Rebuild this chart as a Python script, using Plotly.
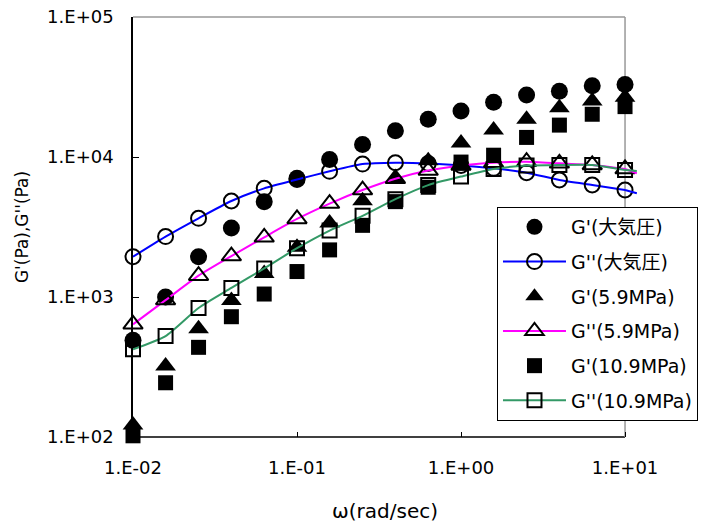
import plotly.graph_objects as go

# angular frequency (rad/sec)
omega = [0.01, 0.0158, 0.0251, 0.0398, 0.0631, 0.1, 0.158, 0.251, 0.398, 0.631,
         1.0, 1.58, 2.51, 3.98, 6.31, 10.0]

# G' and G'' (Pa)
g1_atm = [490, 1000, 1940, 3110, 4800, 7050, 9600, 12300, 15400, 18600,
          21300, 24600, 27700, 29500, 32300, 33000]
g2_atm = [1940, 2700, 3650, 4850, 5970, 6900, 7900, 8900, 9100, 9000,
          8700, 8300, 7730, 6850, 6310, 5810]
g1_59 = [122, 321, 594, 945, 1470, 2265, 3380, 4870, 6970, 9400,
         12600, 15600, 18600, 22500, 25100, 26700]
g2_59 = [638, 950, 1420, 1960, 2670, 3610, 4650, 5810, 7000, 8000,
         8700, 9100, 9250, 9010, 8770, 8210]
g1_109 = [102, 244, 437, 723, 1050, 1520, 2170, 3250, 4800, 6080,
          9200, 10300, 13800, 16900, 20200, 22900]
g2_109 = [423, 526, 834, 1160, 1600, 2230, 2980, 3800, 5000, 6300,
          7250, 8210, 8680, 8770, 8770, 8070]

# curve continuation past the last measured point
omega_end = [10.0, 11.8]
g2_atm_end = [5810, 5500]
g2_59_end = [8210, 7640]
g2_109_end = [8070, 7940]

names = ["G'(大気圧)", "G''(大気圧)", "G'(5.9MPa)", "G''(5.9MPa)",
         "G'(10.9MPa)", "G''(10.9MPa)"]

x_tickvals = [0.01, 0.1, 1, 10]
x_ticktext = ["1.E-02", "1.E-01", "1.E+00", "1.E+01"]
y_tickvals = [100, 1000, 10000, 100000]
y_ticktext = ["1.E+02", "1.E+03", "1.E+04", "1.E+05"]
x_min, x_max = x_tickvals[0], x_tickvals[-1]

FONT = "DejaVu Sans, Noto Sans CJK JP, sans-serif"
BLUE = "#0000FF"
MAGENTA = "#FF00FF"
GREEN = "#339966"

fig = go.Figure()


def filled(y, sym, size, name, grp):
    fig.add_trace(go.Scatter(
        x=omega, y=y, mode="markers", name=name, legendgroup=grp,
        cliponaxis=False,
        marker=dict(symbol=sym, size=size, color="black", line=dict(width=0))))


def openm(y, sym, size, color, name, grp):
    fig.add_trace(go.Scatter(
        x=omega, y=y, mode="lines+markers", name=name, legendgroup=grp,
        cliponaxis=False, line=dict(color=color, width=2, shape="spline", smoothing=0.6),
        marker=dict(symbol=sym, size=size, color="black",
                    line=dict(width=2, color="black"))))


filled(g1_atm, "circle", 17, names[0], "a")
openm(g2_atm, "circle-open", 15, BLUE, names[1], "b")
filled(g1_59, "triangle-up", 18, names[2], "c")
openm(g2_59, "triangle-up-open", 17, MAGENTA, names[3], "d")
filled(g1_109, "square", 15, names[4], "e")
openm(g2_109, "square-open", 14, GREEN, names[5], "f")

for yy, col, grp in [(g2_atm_end, BLUE, "b"), (g2_59_end, MAGENTA, "d"),
                     (g2_109_end, GREEN, "f")]:
    fig.add_trace(go.Scatter(x=omega_end, y=yy, mode="lines", legendgroup=grp,
                             showlegend=False, hoverinfo="skip",
                             line=dict(color=col, width=2)))

# frame: black bottom axis up to 10, grey top/right border
fig.add_shape(type="line", xref="x", yref="paper", x0=x_min, x1=x_max, y0=0, y1=0,
              line=dict(color="black", width=1.5), layer="below")
fig.add_shape(type="line", xref="x", yref="paper", x0=x_min, x1=x_max, y0=1, y1=1,
              line=dict(color="#999999", width=1.5), layer="below")
fig.add_shape(type="line", xref="x", yref="paper", x0=x_max, x1=x_max, y0=0, y1=1,
              line=dict(color="#999999", width=1.5), layer="below")

fig.update_layout(
    width=701, height=526,
    margin=dict(l=133, r=64, t=17, b=89, autoexpand=False),
    paper_bgcolor="white", plot_bgcolor="white",
    font=dict(family=FONT, size=17, color="black"),
    showlegend=True,
    legend=dict(x=0.7222, y=0.5476, xanchor="left", yanchor="top",
                bgcolor="white", bordercolor="black", borderwidth=1,
                font=dict(family=FONT, size=19, color="black"),
                tracegroupgap=7, itemwidth=63),
    xaxis=dict(type="log", range=[-2, 1.073], tickmode="array",
               tickvals=x_tickvals, ticktext=x_ticktext,
               ticks="inside", ticklen=5, tickwidth=1, tickcolor="black",
               showgrid=False, zeroline=False, showline=False,
               ticklabelstandoff=18,
               tickfont=dict(family=FONT, size=18),
               title=dict(text="ω(rad/sec)", standoff=26,
                          font=dict(family=FONT, size=20))),
    yaxis=dict(type="log", range=[2, 5], tickmode="array",
               tickvals=y_tickvals, ticktext=y_ticktext,
               ticks="inside", ticklen=6, tickwidth=1, tickcolor="black",
               showgrid=False, zeroline=False, showline=True,
               linecolor="black", linewidth=1.5, ticklabelstandoff=14,
               tickfont=dict(family=FONT, size=18),
               title=dict(text="G'(Pa),G''(Pa)", standoff=14,
                          font=dict(family=FONT, size=17))),
)

fig.write_html("out.html")
